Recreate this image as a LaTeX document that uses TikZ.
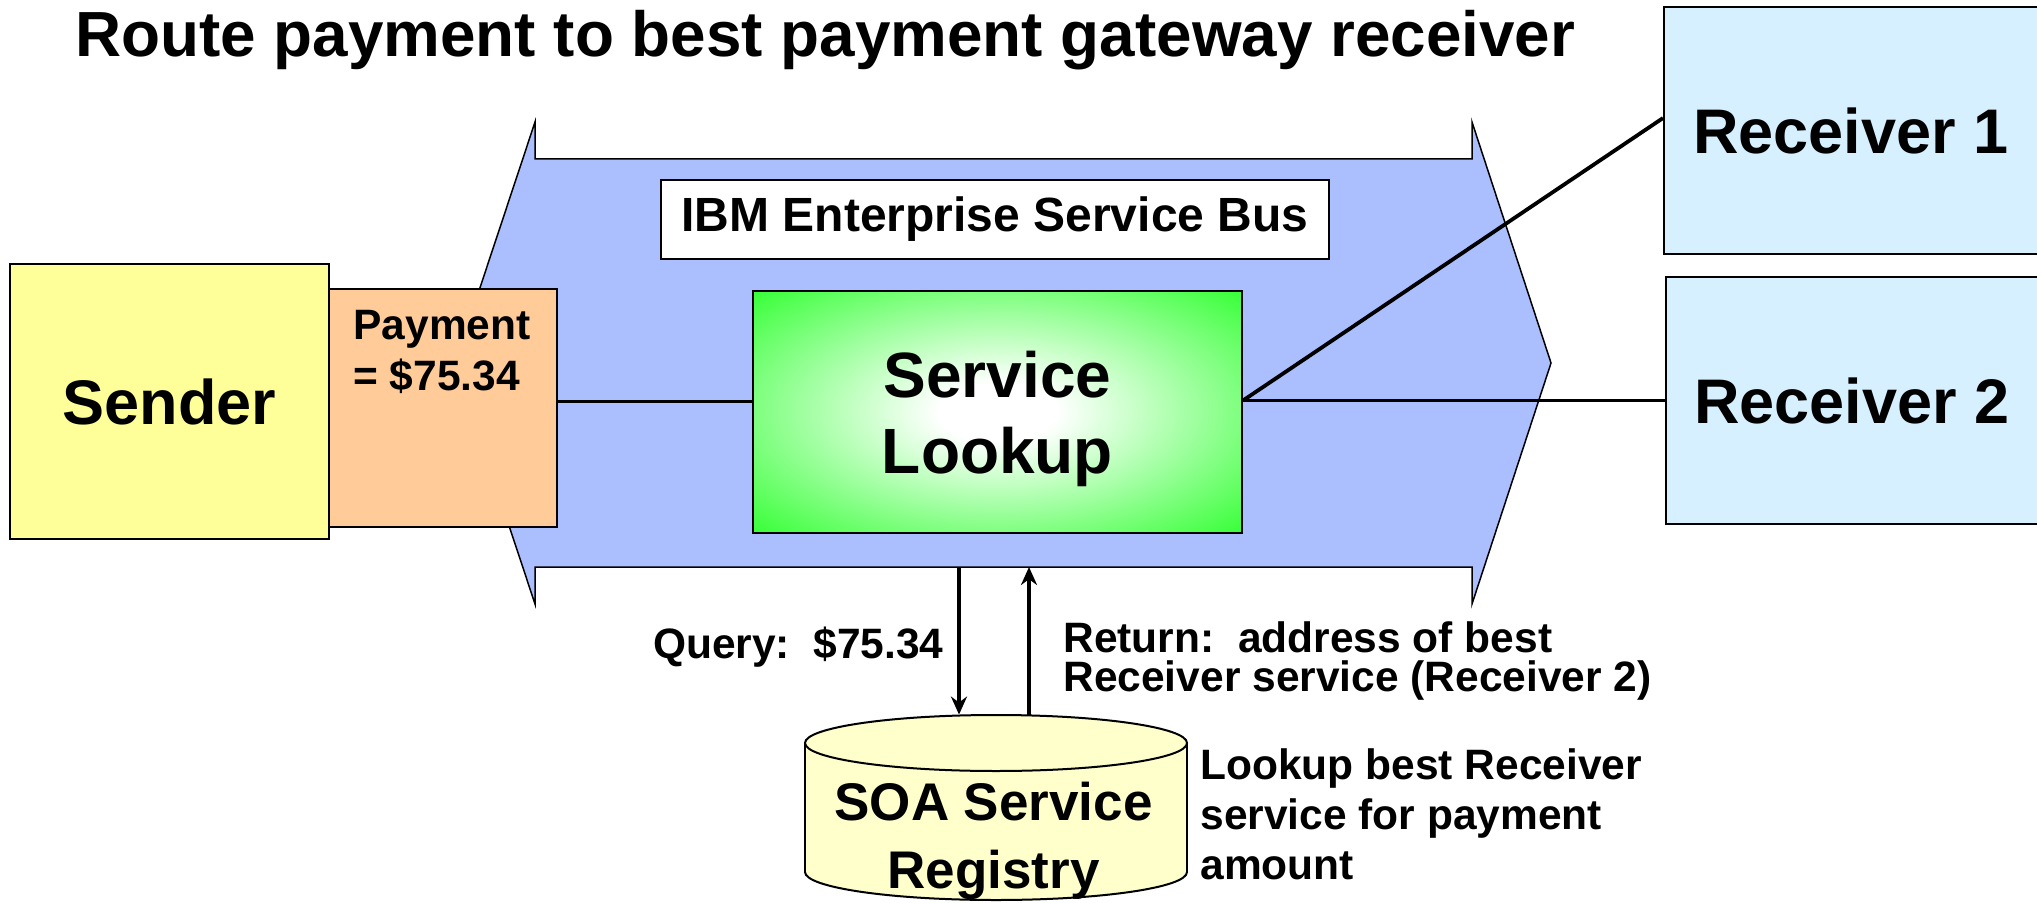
\documentclass[tikz,border=0pt]{standalone}
\usepackage{fontspec}
\setmainfont{Liberation Sans}
\usetikzlibrary{calc,arrows.meta}

\definecolor{senderyellow}{RGB}{255,255,153}
\definecolor{paypeach}{RGB}{255,204,153}
\definecolor{busblue}{RGB}{171,191,255}
\definecolor{recvblue}{RGB}{214,240,255}
\definecolor{lookgreen}{RGB}{51,255,51}
\definecolor{regyellow}{RGB}{255,255,204}

\pgfdeclareradialshading{lookupglow}{\pgfpoint{0bp}{0bp}}{color(0bp)=(white); color(6bp)=(white); color(36bp)=(lookgreen); color(100bp)=(lookgreen)}

\tikzset{
  box/.style={draw=black, line width=1pt, rectangle, inner sep=0pt},
  bigtxt/.style={font=\fontsize{31.5}{38}\selectfont\bfseries, align=center},
  midtxt/.style={font=\fontsize{21.25}{25}\selectfont\bfseries, align=left, inner sep=0pt},
  link/.style={line width=1.9pt},
  flow/.style={line width=1.8pt, -{Stealth[length=9pt,width=8pt]}},
}

\begin{document}
\begin{tikzpicture}[x=0.5pt,y=-0.5pt]
\useasboundingbox (0,0) rectangle (2037,903);

% heading
\node[anchor=base west, inner sep=0pt, font=\fontsize{31.9}{38}\selectfont\bfseries] (title) at (75,57) {Route payment to best payment gateway receiver};

% the bus arrow
\filldraw[fill=busblue, draw=black, line width=0.75pt]
  (535,122) -- (535,159) -- (1472,159) -- (1472,122) -- (1551,363)
  -- (1472,604) -- (1472,567) -- (535,567) -- (535,604) -- (455,363) -- cycle;

\node[box, fill=white, minimum width=334pt, minimum height=39.5pt, font=\fontsize{24}{28}\selectfont\bfseries] (esb) at (995,219.5) {IBM Enterprise Service Bus};

\node[box, fill=senderyellow, minimum width=159.5pt, minimum height=137.5pt, bigtxt] (sender) at (169.5,401.5) {Sender};
\node[box, fill=paypeach, minimum width=114pt, minimum height=119pt] (pay) at (443,408) {};
\node[midtxt, anchor=base west] (paytxt) at (353,390) {Payment\\= \$75.34};

\node[box, shading=lookupglow, minimum width=244.5pt, minimum height=121pt, bigtxt, font=\fontsize{32}{38}\selectfont\bfseries, text depth=0pt] (lookup) at (997.5,412) {Service\\Lookup};

\node[box, fill=recvblue, minimum width=187pt, minimum height=123.5pt, bigtxt] (rone) at (1851,130.5) {Receiver 1};
\node[box, fill=recvblue, minimum width=186pt, minimum height=123.5pt, bigtxt] (rtwo) at (1852,400.5) {Receiver 2};

% connections
\draw[link] (pay.east |- sender.center) -- (lookup.west |- sender.center);
\coordinate (lkout) at (lookup.east |- rtwo.center);
\draw[link] (lkout) -- (rtwo.west);
\draw[link] (lkout) -- ($(rone.north west)!0.45!(rone.south west)$);

% registry
\node[minimum width=191pt, minimum height=92.5pt, inner sep=0pt] (registry) at (996,807.5) {};
\filldraw[fill=regyellow, line width=1pt] (996,872) ellipse [x radius=191, y radius=28];
\fill[regyellow] (805,743) rectangle (1187,872);
\draw[line width=1pt] (805,743) -- (805,872) (1187,743) -- (1187,872);
\filldraw[fill=regyellow, line width=1pt] (996,743) ellipse [x radius=191, y radius=28];
\node[align=center, inner sep=0pt, anchor=base, font=\fontsize{26.5}{34}\selectfont\bfseries] (regtxt) at (993.5,888) {SOA Service\\Registry};

\coordinate (qtop) at (959,567);
\coordinate (rtop) at (1029,567);
\draw[flow] (qtop) -- (qtop |- registry.north);
\draw[flow] (rtop |- registry.north) -- (rtop);

\node[midtxt, anchor=base east] (query) at (944,658) {Query:\ \ \$75.34};
\node[midtxt, anchor=base west, font=\fontsize{21.25}{19.5}\selectfont\bfseries] (ret) at (1063,691) {Return:\ \ address of best\\Receiver service (Receiver 2)};
\node[midtxt, anchor=base west] (lookdesc) at (1200,879) {Lookup best Receiver\\service for payment\\amount};

\end{tikzpicture}
\end{document}
